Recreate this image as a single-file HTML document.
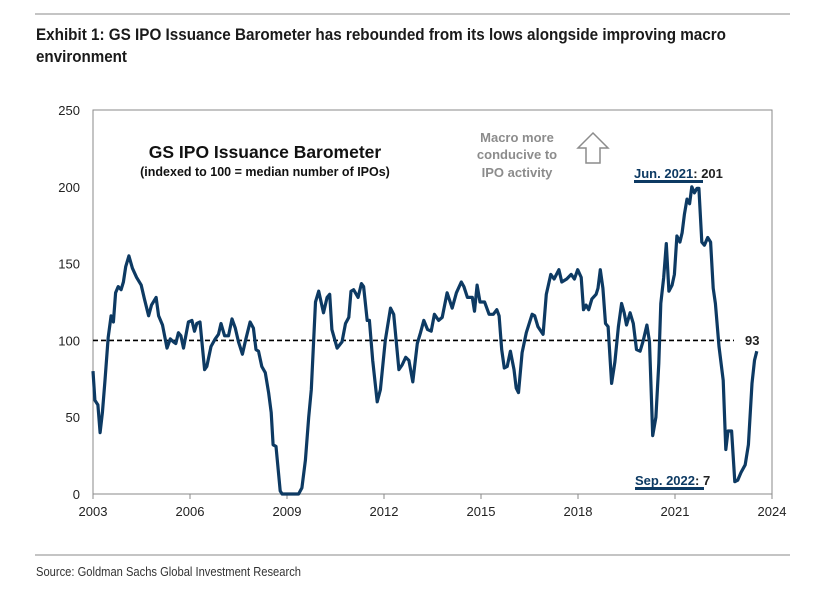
<!DOCTYPE html>
<html><head><meta charset="utf-8">
<style>
html,body{margin:0;padding:0;background:#fff;}
body{width:816px;height:593px;overflow:hidden;position:relative;font-family:"Liberation Sans",sans-serif;}
.narrow{font-family:"Liberation Sans Narrow","Liberation Sans",sans-serif;}
</style></head>
<body>
<svg id="chart" width="816" height="593" viewBox="0 0 816 593" xmlns="http://www.w3.org/2000/svg">
  <line x1="35" y1="14" x2="790" y2="14" stroke="#8a8a8a" stroke-width="1"/>
  <text x="36" y="40" class="narrow" font-size="16.5" font-weight="bold" fill="#1a1a1a" textLength="690" lengthAdjust="spacingAndGlyphs">Exhibit 1: GS IPO Issuance Barometer has rebounded from its lows alongside improving macro</text>
  <text x="36" y="62" class="narrow" font-size="16.5" font-weight="bold" fill="#1a1a1a" textLength="91" lengthAdjust="spacingAndGlyphs">environment</text>
  <rect x="93" y="110" width="679" height="384" fill="none" stroke="#8a8a8a" stroke-width="1"/>
  <g id="yticks"></g>
  <g id="xticks"></g>
  <g id="series"></g>
  <text x="265" y="158" text-anchor="middle" font-size="17.5" font-weight="bold" fill="#111">GS IPO Issuance Barometer</text>
  <text x="265" y="176" text-anchor="middle" font-size="12.5" font-weight="bold" fill="#111">(indexed to 100 = median number of IPOs)</text>
  <g font-size="13" font-weight="bold" fill="#8c8c8c" text-anchor="middle">
    <text x="517" y="142">Macro more</text>
    <text x="517" y="159">conducive to</text>
    <text x="517" y="177">IPO activity</text>
  </g>
  <polygon points="593,133 608,148 600,148 600,163 586,163 586,148 578,148" fill="#fff" stroke="#8c8c8c" stroke-width="1.5"/>
  <g font-size="13" font-weight="bold" fill="#0d3a63">
    <text x="634" y="178">Jun. 2021<tspan fill="#222">: 201</tspan></text>
    <rect x="634" y="180" width="69" height="3" fill="#0d3a63"/>
  </g>
  <g font-size="13" font-weight="bold" fill="#0d3a63">
    <text x="635" y="485">Sep. 2022<tspan fill="#222">: 7</tspan></text>
    <rect x="635" y="487" width="69" height="3" fill="#0d3a63"/>
  </g>
  <text x="745" y="345" font-size="13" font-weight="bold" fill="#222">93</text>
  <line x1="35" y1="555" x2="790" y2="555" stroke="#8a8a8a" stroke-width="1"/>
  <text x="36" y="576" class="narrow" font-size="12.5" fill="#333" textLength="265" lengthAdjust="spacingAndGlyphs">Source: Goldman Sachs Global Investment Research</text>
</svg>
<script>
const yTickValues = [0, 50, 100, 150, 200, 250];
const xTickYears = [2003, 2006, 2009, 2012, 2015, 2018, 2021, 2024];
const baselineValue = 100;
const dates = [2003.0,2003.06,2003.15,2003.22,2003.29,2003.37,2003.47,2003.56,2003.63,2003.70,2003.78,2003.87,2003.94,2004.01,2004.11,2004.22,2004.35,2004.49,2004.59,2004.72,2004.81,2004.95,2005.03,2005.15,2005.29,2005.39,2005.49,2005.56,2005.64,2005.72,2005.80,2005.95,2006.06,2006.14,2006.21,2006.31,2006.45,2006.52,2006.65,2006.78,2006.88,2006.96,2007.07,2007.19,2007.30,2007.40,2007.50,2007.62,2007.73,2007.86,2007.96,2008.04,2008.12,2008.22,2008.33,2008.43,2008.51,2008.57,2008.66,2008.79,2008.85,2009.36,2009.46,2009.57,2009.67,2009.75,2009.88,2009.98,2010.13,2010.24,2010.32,2010.39,2010.55,2010.70,2010.81,2010.91,2010.98,2011.06,2011.20,2011.30,2011.37,2011.48,2011.55,2011.65,2011.79,2011.89,2012.04,2012.20,2012.30,2012.46,2012.56,2012.67,2012.77,2012.89,2013.03,2013.13,2013.23,2013.35,2013.46,2013.56,2013.69,2013.80,2013.95,2014.11,2014.24,2014.39,2014.47,2014.58,2014.73,2014.80,2014.88,2014.97,2015.11,2015.25,2015.38,2015.49,2015.56,2015.64,2015.72,2015.81,2015.91,2016.02,2016.09,2016.16,2016.27,2016.40,2016.58,2016.66,2016.76,2016.92,2017.02,2017.16,2017.26,2017.41,2017.50,2017.65,2017.79,2017.89,2017.99,2018.10,2018.17,2018.25,2018.33,2018.43,2018.56,2018.62,2018.69,2018.77,2018.85,2018.93,2019.04,2019.14,2019.25,2019.35,2019.43,2019.50,2019.61,2019.71,2019.81,2019.92,2020.02,2020.13,2020.21,2020.31,2020.41,2020.50,2020.56,2020.65,2020.73,2020.81,2020.91,2020.98,2021.06,2021.15,2021.22,2021.29,2021.37,2021.45,2021.52,2021.60,2021.68,2021.74,2021.83,2021.91,2022.01,2022.10,2022.18,2022.25,2022.36,2022.49,2022.57,2022.64,2022.75,2022.85,2022.94,2023.04,2023.17,2023.27,2023.38,2023.46,2023.53];
const values = [80,61,58,40,53,74,102,116,112,131,135,133,138,148,155,147,141,136,127,116,123,128,116,110,95,101,99,98,105,103,95,112,113,106,111,112,81,83,96,101,104,111,103,103,114,108,99,91,101,112,108,94,93,83,79,66,53,32,31,2,0,0,4,22,50,68,125,132,118,128,130,107,95,99,111,115,132,133,128,137,135,113,113,87,60,68,100,121,117,81,84,89,87,73,98,105,113,107,106,117,113,115,131,121,131,138,135,128,128,119,136,125,125,117,117,120,116,94,82,83,93,81,69,66,92,105,117,116,109,104,130,143,140,146,138,140,143,140,146,141,120,123,120,127,130,134,146,134,111,109,72,86,109,124,118,110,118,111,94,93,100,110,99,38,50,85,124,141,163,132,136,143,168,164,170,182,192,189,200,196,199,199,164,162,167,164,134,124,96,74,29,41,41,8,9,14,19,32,72,87,93];

const NS = 'http://www.w3.org/2000/svg';
const X0 = 93, X1 = 772, Y0 = 494, Y1 = 110;
const xMin = 2003, xMax = 2024, yMin = 0, yMax = 250;
function xScale(t){ return X0 + (t - xMin) / (xMax - xMin) * (X1 - X0); }
function yScale(v){ return Y0 - (v - yMin) / (yMax - yMin) * (Y0 - Y1); }

const yg = document.getElementById('yticks');
yTickValues.forEach(v => {
  const t = document.createElementNS(NS, 'text');
  t.setAttribute('x', 80); t.setAttribute('y', yScale(v) + 5);
  t.setAttribute('text-anchor', 'end'); t.setAttribute('font-size', '13'); t.setAttribute('fill', '#222');
  t.textContent = v;
  
  
  yg.appendChild(t);
});
const xg = document.getElementById('xticks');
xTickYears.forEach(yr => {
  const x = xScale(yr);
  const l = document.createElementNS(NS, 'line');
  l.setAttribute('x1', x); l.setAttribute('x2', x); l.setAttribute('y1', Y0); l.setAttribute('y2', Y0 + 5);
  l.setAttribute('stroke', '#8a8a8a');
  
  
  xg.appendChild(l);
  const t = document.createElementNS(NS, 'text');
  t.setAttribute('x', x); t.setAttribute('y', 516);
  t.setAttribute('text-anchor', 'middle'); t.setAttribute('font-size', '13'); t.setAttribute('fill', '#222');
  t.textContent = yr;
  
  
  xg.appendChild(t);
});

const sg = document.getElementById('series');
const base = document.createElementNS(NS, 'line');
base.setAttribute('x1', X0); base.setAttribute('x2', 734);
base.setAttribute('y1', yScale(baselineValue)); base.setAttribute('y2', yScale(baselineValue));
base.setAttribute('stroke', '#000'); base.setAttribute('stroke-width', '1.6'); base.setAttribute('stroke-dasharray', '5,3');


sg.appendChild(base);

let d = '';
dates.forEach((t, i) => { d += (i ? 'L' : 'M') + xScale(t).toFixed(1) + ',' + yScale(values[i]).toFixed(1); });
const p = document.createElementNS(NS, 'path');
p.setAttribute('d', d);
p.setAttribute('fill', 'none'); p.setAttribute('stroke', '#0d3a63'); p.setAttribute('stroke-width', '3.2');
p.setAttribute('stroke-linejoin', 'round');


sg.appendChild(p);
</script>
</body></html>
